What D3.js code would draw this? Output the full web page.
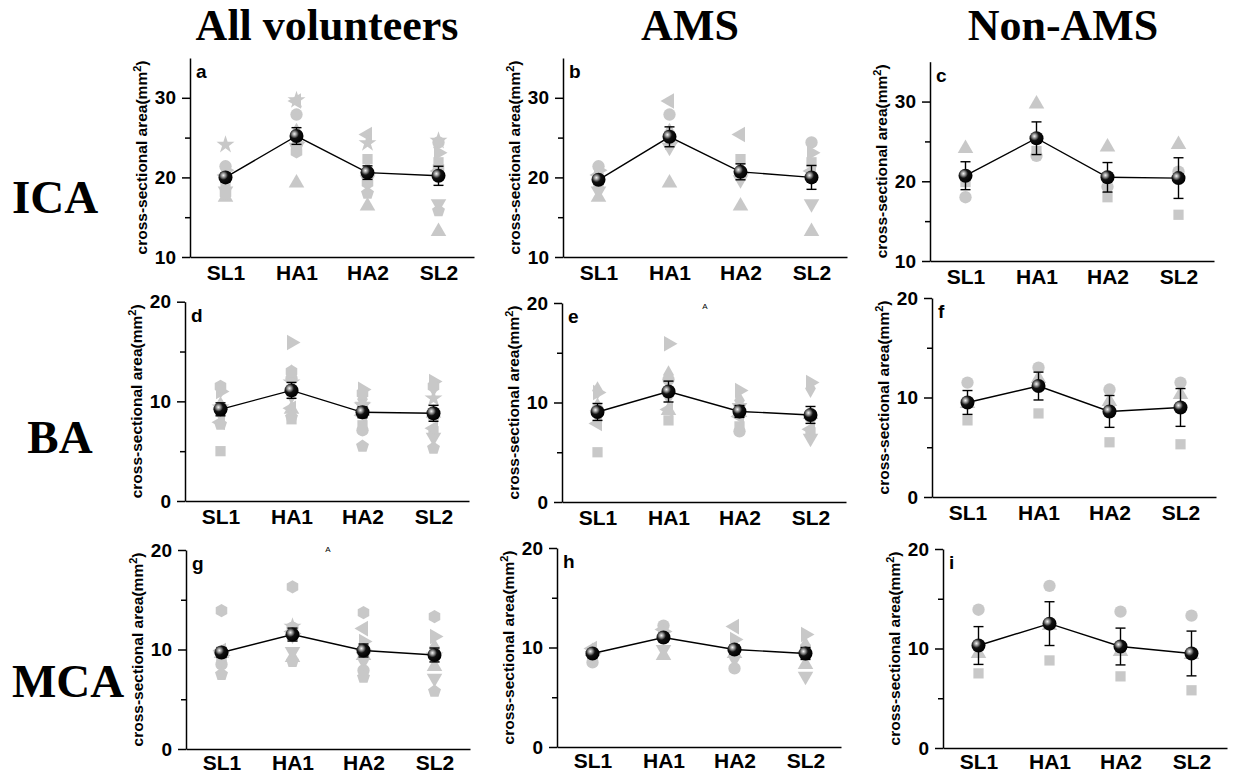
<!DOCTYPE html>
<html>
<head>
<meta charset="utf-8">
<script src="https://cdn.jsdelivr.net/npm/d3@7"></script>
<style>
  body { margin: 0; background: #fff; }
  text { font-family: "Liberation Sans", Arial, sans-serif; }
  .axis path, .axis line { stroke: #000; stroke-width: 1.5px; }
</style>
</head>
<body>
<svg id="chart" width="1235" height="775"></svg>
<script>
const categories = ['SL1', 'HA1', 'HA2', 'SL2'];
const groups = ['All volunteers', 'AMS', 'Non-AMS'];
const vessels = ['ICA', 'BA', 'MCA'];
const letters = ['a', 'b', 'c', 'd', 'e', 'f', 'g', 'h', 'i'];

// symbol of each subject
const amsShapes = ['circle', 'square', 'diamond', 'triangleUp', 'triangleDown', 'triangleLeft', 'triangleRight'];
const nonAmsShapes = ['triangleUp', 'square', 'circle'];      // in the Non-AMS panels
const nonAmsShapesAll = ['star', 'pentagon', 'hexagon'];      // same subjects in the "All" panels

// subject values, one row per subject: [SL1, HA1, HA2, SL2]
const icaAms = [
  [21.4, 27.9, 20.2, 24.4],
  [19.0, 25.2, 22.3, 21.9],
  [20.5, 25.7, 21.0, 20.5],
  [17.5, 19.3, 16.4, 13.2],
  [18.3, 23.8, 19.7, 16.7],
  [20.3, 29.6, 25.4, 20.8],
  [20.9, 24.4, 20.5, 23.1],
];
const icaNonAms = [
  [24.1, 29.7, 24.3, 24.6],
  [19.9, 23.8, 18.0, 15.8],
  [18.0, 23.2, 19.3, 21.2],
];
const baAms = [
  [9.3, 12.3, 7.1, 8.5],
  [5.0, 8.2, 7.6, 7.0],
  [11.2, 12.8, 10.2, 11.4],
  [9.6, 9.2, 9.0, 8.8],
  [8.8, 10.6, 9.5, 6.4],
  [7.9, 9.3, 8.6, 7.3],
  [11.0, 15.9, 11.2, 12.0],
];
const baNonAms = [
  [9.4, 11.9, 9.6, 10.3],
  [7.7, 8.4, 5.5, 5.3],
  [11.5, 13.0, 10.8, 11.5],
];
const mcaAms = [
  [8.5, 12.2, 7.9, 9.6],
  [9.3, 11.3, 9.6, 9.8],
  [9.5, 11.5, 8.9, 10.2],
  [9.6, 9.2, 9.4, 8.3],
  [9.2, 9.8, 9.3, 7.1],
  [9.9, 11.8, 12.1, 9.5],
  [9.4, 11.6, 10.8, 11.3],
];
const mcaNonAms = [
  [9.5, 12.3, 9.7, 9.4],
  [7.5, 8.8, 7.2, 5.8],
  [13.9, 16.3, 13.7, 13.3],
];

// group means and error bars: [All, AMS, Non-AMS]
const icaMean = [[20.0, 25.2, 20.6, 20.2], [19.7, 25.1, 20.7, 20.0], [20.7, 25.4, 20.5, 20.4]];
const icaErr  = [[0.55, 1.05, 0.85, 1.2], [0.5, 1.25, 1.0, 1.5], [1.75, 2.05, 1.85, 2.55]];
const baMean  = [[9.2, 11.1, 8.9, 8.8], [9.05, 11.1, 9.1, 8.75], [9.5, 11.15, 8.6, 9.0]];
const baErr   = [[0.65, 0.8, 0.55, 0.8], [0.85, 1.05, 0.6, 0.85], [1.2, 1.4, 1.6, 1.9]];
const mcaMean = [[9.7, 11.5, 9.9, 9.45], [9.4, 11.0, 9.8, 9.4], [10.3, 12.5, 10.2, 9.5]];
const mcaErr  = [[0.5, 0.65, 0.65, 0.7], [0.3, 0.35, 0.45, 0.6], [1.9, 2.2, 1.85, 2.25]];

const yDomains = [[10, 35], [0, 20], [0, 20]];
const yMajor = [[10, 20, 30], [0, 10, 20], [0, 10, 20]];
const yMinor = [[15, 25], [5, 15], [5, 15]];

const vesselData = [
  { ams: icaAms, non: icaNonAms, mean: icaMean, err: icaErr },
  { ams: baAms, non: baNonAms, mean: baMean, err: baErr },
  { ams: mcaAms, non: mcaNonAms, mean: mcaMean, err: mcaErr },
];

// panel frames (axis left, top, bottom)
const frames = [
  [{ x: 190, top: 58, bottom: 257 }, { x: 563, top: 58, bottom: 257 }, { x: 930, top: 61.7, bottom: 261 }],
  [{ x: 185, top: 301.7, bottom: 501 }, { x: 562, top: 303, bottom: 502 }, { x: 932, top: 298, bottom: 497 }],
  [{ x: 186, top: 550, bottom: 749 }, { x: 557, top: 548, bottom: 747 }, { x: 943, top: 549, bottom: 748 }],
];
const plotW = 284;
const xPad = [8, 8, 6];

const svg = d3.select('#chart');
svg.append('rect').attr('width', 1235).attr('height', 775).attr('fill', '#fff');

const grad = svg.append('defs').append('radialGradient')
  .attr('id', 'ball').attr('cx', '35%').attr('cy', '35%').attr('r', '65%');
grad.append('stop').attr('offset', '0%').attr('stop-color', '#f4f4f4');
grad.append('stop').attr('offset', '22%').attr('stop-color', '#999');
grad.append('stop').attr('offset', '50%').attr('stop-color', '#111');
grad.append('stop').attr('offset', '100%').attr('stop-color', '#000');

// polygon symbol types
function polygonType(n, rot) {
  return {
    draw(ctx, size) {
      // area of regular n-gon = n/2 r^2 sin(2pi/n)
      const r = Math.sqrt(size / (n / 2 * Math.sin(2 * Math.PI / n)));
      for (let i = 0; i < n; i++) {
        const a = rot + i * 2 * Math.PI / n;
        const px = r * Math.sin(a), py = -r * Math.cos(a);
        if (i === 0) ctx.moveTo(px, py); else ctx.lineTo(px, py);
      }
      ctx.closePath();
    }
  };
}
const symbolDefs = {
  circle: { type: d3.symbolCircle, size: 120, rot: 0 },
  square: { type: d3.symbolSquare, size: 105, rot: 0 },
  diamond: { type: d3.symbolDiamond, size: 100, rot: 0 },
  triangleUp: { type: d3.symbolTriangle, size: 105, rot: 0 },
  triangleDown: { type: d3.symbolTriangle, size: 105, rot: 180 },
  triangleLeft: { type: d3.symbolTriangle, size: 105, rot: -90 },
  triangleRight: { type: d3.symbolTriangle, size: 105, rot: 90 },
  star: { type: d3.symbolStar, size: 100, rot: 0 },
  pentagon: { type: polygonType(5, 0), size: 110, rot: 0 },
  hexagon: { type: polygonType(6, 0), size: 115, rot: 0 },
};

vessels.forEach((vessel, r) => {
  const vd = vesselData[r];
  groups.forEach((group, c) => {
    const f = frames[r][c];
    const x = d3.scalePoint().domain(categories).range([f.x, f.x + plotW]).padding(0.5);
    const y = d3.scaleLinear().domain(yDomains[r]).range([f.bottom, f.top]);
    const g = svg.append('g');

    // scatter points of subjects
    let pts = [];
    if (c !== 2) vd.ams.forEach((vals, s) => vals.forEach((v, k) => pts.push({ cat: categories[k], v, shape: amsShapes[s] })));
    if (c !== 1) vd.non.forEach((vals, s) => vals.forEach((v, k) => pts.push({ cat: categories[k], v, shape: c === 0 ? nonAmsShapesAll[s] : nonAmsShapes[s] })));
    g.append('g').selectAll('path').data(pts).join('path')
      .attr('d', d => d3.symbol(symbolDefs[d.shape].type, symbolDefs[d.shape].size)())
      .attr('transform', d => `translate(${x(d.cat)},${y(d.v)}) rotate(${symbolDefs[d.shape].rot})`)
      .attr('fill', '#c8c8c8');

    // axes
    g.append('g').attr('class', 'axis')
      .attr('transform', `translate(0,${f.bottom})`)
      .call(d3.axisBottom(x).tickSize(0).tickPadding(xPad[r]).tickSizeOuter(0))
      .call(a => a.selectAll('text').attr('font-size', 21).attr('font-weight', 'bold').attr('font-family', '"Liberation Sans", Arial, sans-serif'));
    g.append('g').attr('class', 'axis')
      .attr('transform', `translate(${f.x},0)`)
      .call(d3.axisLeft(y).tickValues(yMajor[r]).tickSize(8).tickPadding(6).tickSizeOuter(0))
      .call(a => a.selectAll('text').attr('font-size', 19).attr('font-weight', 'bold').attr('font-family', '"Liberation Sans", Arial, sans-serif'));
    g.append('g').attr('class', 'axis')
      .attr('transform', `translate(${f.x},0)`)
      .call(d3.axisLeft(y).tickValues(yMinor[r]).tickSize(5).tickFormat(''))
      .call(a => a.select('.domain').remove());

    // mean line, error bars, mean markers
    const means = vd.mean[c], errs = vd.err[c];
    const md = categories.map((cat, k) => ({ cat, m: means[k], e: errs[k] }));
    g.append('path').datum(md)
      .attr('d', d3.line().x(d => x(d.cat)).y(d => y(d.m)))
      .attr('fill', 'none').attr('stroke', '#000').attr('stroke-width', 1.4);
    const eb = g.append('g').selectAll('g').data(md).join('g')
      .attr('stroke', '#000').attr('stroke-width', 1.4);
    eb.append('line').attr('x1', d => x(d.cat)).attr('x2', d => x(d.cat))
      .attr('y1', d => y(d.m + d.e)).attr('y2', d => y(d.m - d.e));
    eb.append('line').attr('x1', d => x(d.cat) - 5).attr('x2', d => x(d.cat) + 5)
      .attr('y1', d => y(d.m + d.e)).attr('y2', d => y(d.m + d.e));
    eb.append('line').attr('x1', d => x(d.cat) - 5).attr('x2', d => x(d.cat) + 5)
      .attr('y1', d => y(d.m - d.e)).attr('y2', d => y(d.m - d.e));
    g.append('g').selectAll('circle').data(md).join('circle')
      .attr('cx', d => x(d.cat)).attr('cy', d => y(d.m)).attr('r', 7)
      .attr('fill', 'url(#ball)');

    // y title
    const yt = g.append('text')
      .attr('transform', `translate(${f.x - 43},${(f.top + f.bottom) / 2}) rotate(-90)`)
      .attr('text-anchor', 'middle').attr('font-size', 15.5).attr('font-weight', 'bold')
      .text('cross-sectional area(mm');
    yt.append('tspan').attr('baseline-shift', 'super').attr('font-size', 11).text('2');
    yt.append('tspan').text(')');

    // panel letter
    g.append('text').attr('x', f.x + 6).attr('y', f.top + 20)
      .attr('font-size', 19).attr('font-weight', 'bold').text(letters[r * 3 + c]);
  });
});

// column titles and row labels
const titleX = [327, 690, 1063];
svg.append('g').selectAll('text').data(groups).join('text')
  .attr('x', (d, i) => titleX[i]).attr('y', 40)
  .attr('text-anchor', 'middle').attr('font-size', 44).attr('font-weight', 'bold')
  .style('font-family', '"Liberation Serif", "Times New Roman", serif')
  .text(d => d);
const rowX = [55, 60, 68], rowY = [213, 453, 697];
svg.append('g').selectAll('text').data(vessels).join('text')
  .attr('x', (d, i) => rowX[i]).attr('y', (d, i) => rowY[i])
  .attr('text-anchor', 'middle').attr('font-size', 47).attr('font-weight', 'bold')
  .style('font-family', '"Liberation Serif", "Times New Roman", serif')
  .text(d => d);

// stray small marks
svg.append('text').attr('x', 705).attr('y', 309).attr('text-anchor', 'middle').attr('font-size', 8).text('A');
svg.append('text').attr('x', 328).attr('y', 552).attr('text-anchor', 'middle').attr('font-size', 8).text('A');
</script>
</body>
</html>
